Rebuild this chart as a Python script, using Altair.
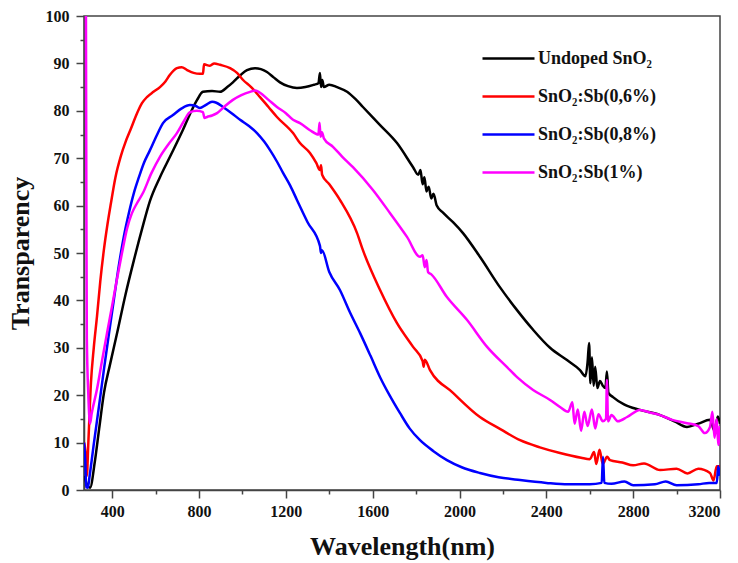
import altair as alt
import pandas as pd

series_names = ["Undoped SnO₂", "SnO₂:Sb(0,6%)", "SnO₂:Sb(0,8%)", "SnO₂:Sb(1%)"]
series_colors = ["#000000", "#FF0000", "#0000FF", "#FF00FF"]

undoped_wl = [272, 285, 298, 320, 340, 362, 390, 422, 460, 500, 540, 574, 620, 666, 726, 760, 791, 818, 860, 897, 930, 956, 990,
              1021, 1058, 1085, 1113, 1145, 1173, 1210, 1251, 1290, 1330, 1350, 1357, 1362, 1368, 1375,
              1400, 1436, 1482, 1520, 1555, 1634, 1712, 1786, 1810, 1820, 1830, 1838, 1848, 1858, 1870,
              1880, 1895, 1924, 1970, 2016, 2094, 2186, 2264, 2339, 2417, 2495, 2555, 2580, 2590, 2597,
              2603, 2610, 2618, 2625, 2635, 2647, 2660, 2672, 2679, 2686, 2707, 2760, 2831, 2924, 2990,
              3048, 3100, 3154, 3175, 3190, 3200]
undoped_t = [3, 1, 0.5, 6, 13, 20.5, 26.5, 33, 41, 48.5, 55.5, 61, 66, 70.3, 76, 79.5, 82.3, 84, 84.2, 84, 85, 86, 87.5,
             88.6, 89, 88.8, 88.2, 87, 86, 85.2, 84.8, 85, 85.5, 85.8, 88, 85, 86.5, 85,
             85.5, 85, 84, 82.5, 80.8, 77, 73.2, 68.1, 66.5, 67.5, 64.5, 66, 63, 64, 61.5,
             62.5, 60, 58.5, 56.5, 54.2, 49.2, 42.8, 38, 33.8, 30, 27.4, 25.3, 24, 27, 31,
             22.5, 28, 22, 26, 21.5, 23, 22, 21.5, 25, 20.5, 19.6, 18, 16.9, 15.8, 14.5,
             13.3, 14, 14.8, 12.5, 15.5, 14]

sb06_wl = [270, 277, 283, 290, 302, 315, 330, 345, 362, 378, 394, 415, 440, 462, 486, 510, 537, 560, 590, 620, 645, 666, 698, 720, 745, 775,
           804, 818, 823, 850, 870, 897, 943, 975, 1003, 1040, 1081, 1120, 1159, 1233, 1265, 1311,
           1340, 1357, 1362, 1367, 1400, 1449, 1528, 1555, 1634, 1712, 1786, 1830, 1835, 1840, 1864,
           1970, 2094, 2190, 2279, 2370, 2463, 2560, 2600, 2620, 2630, 2645, 2660, 2680, 2693, 2750,
           2800, 2850, 2924, 3000, 3050, 3100, 3154, 3170, 3185, 3200]
sb06_t = [10, 8, 3, 10, 22.6, 30, 36.7, 44, 50.8, 56, 60.5, 66, 70.5, 73.5, 76.2, 79, 81.6, 82.9, 84, 85, 86.2, 87.6, 89, 89.2, 88.6, 88,
          87.8, 87.8, 89.8, 89.5, 90, 89.7, 89, 88, 86.5, 85, 82.9, 80.8, 78.7, 75.3, 73.2, 71.1,
          69, 67.5, 68.5, 66.5, 64.5, 61.2, 54.2, 50.6, 42.2, 35.2, 30.2, 27.2, 26, 27.5, 25.3,
          20.5, 15.4, 12.8, 10.5, 9, 7.8, 6.8, 6.5, 8, 5.5, 8.5, 5.5, 7, 6.3, 5.8,
          5.2, 5.6, 4.2, 4.5, 3.5, 4.5, 3.6, 2, 5, 5]

sb08_wl = [270, 276, 280, 288, 296, 316, 340, 362, 385, 408, 430, 454, 477, 500, 523, 546, 574, 605, 634, 680, 720, 758, 785, 804,
           830, 860, 880, 910, 950, 989, 1030, 1067, 1100, 1127, 1160, 1187, 1220, 1251, 1300, 1357,
           1362, 1366, 1400, 1449, 1495, 1542, 1590, 1634, 1680, 1726, 1770, 1818, 1880, 1942, 2010,
           2094, 2180, 2279, 2400, 2500, 2600, 2655, 2661, 2667, 2700, 2760, 2800, 2900, 2950, 3000,
           3100, 3150, 3185, 3192, 3200]
sb08_t = [10, 6, 0.6, 0.5, 3, 10, 18, 25.5, 33, 40.3, 47.2, 53.6, 58.5, 62.7, 66, 69, 71.7, 74.8, 77.4, 79.1, 80.5, 81.2, 81, 80.6,
          81.2, 81.9, 81.7, 80.8, 79.5, 78.1, 76.8, 75.3, 73.5, 71.7, 69.2, 66.9, 64.2, 61.2, 56.5, 51.5,
          50, 50.6, 46, 42.2, 37.5, 33.1, 28.3, 23.8, 19.8, 16.2, 13, 10.5, 8.2, 6.3, 4.8,
          3.6, 2.7, 2.1, 1.5, 1.2, 1.2, 1.5, 7, 1.5, 1.3, 1.8, 1, 1.2, 1.8, 1,
          1.2, 1.5, 1.5, 5, 3]

sb1_wl = [279, 281, 283, 290, 298, 305, 330, 352, 376, 400, 422, 445, 468, 490, 514, 542, 580, 620, 660, 698, 730, 758,
          790, 818, 825, 837, 860, 883, 920, 956, 995, 1035, 1060, 1081, 1120, 1159, 1200, 1233,
          1265, 1311, 1350, 1355, 1360, 1366, 1375, 1417, 1460, 1509, 1601, 1680, 1758, 1818, 1830,
          1840, 1848, 1855, 1870, 1942, 2034, 2127, 2219, 2265, 2339, 2417, 2463, 2500, 2520, 2530,
          2545, 2560, 2575, 2590, 2610, 2625, 2640, 2660, 2675, 2679, 2684, 2700, 2730, 2772, 2831,
          2880, 2924, 2980, 3048, 3100, 3130, 3154, 3165, 3175, 3185, 3192, 3200]
sb1_t = [100, 60, 32, 20, 14, 16, 21.3, 27, 33.1, 39, 44.5, 50, 55.1, 58.3, 60.5, 62.7, 66.8, 70.3, 73, 75.3, 77.8, 79.7,
         80, 79.7, 78.5, 78.7, 79, 79.5, 81, 82.3, 83.3, 84, 84.3, 83.8, 82.3, 80.8, 79.5, 78.1,
         77.4, 75.9, 75, 77.5, 74.5, 75.5, 74.2, 72.4, 70.3, 68.1, 63.3, 58.4, 53.4, 49.2, 49.5,
         47, 48.5, 46, 45.5, 40.7, 35.9, 30.2, 25.9, 23.8, 21.1, 19, 17.5, 16.5, 18.5, 14,
         17, 12.5, 16.5, 13.5, 17, 13, 16, 14.5, 15, 23.2, 14.5, 15.8, 14.5, 15.4, 16.9,
         16.3, 15.8, 14.8, 14.1, 13.5, 12, 13.3, 16.5, 11, 15, 9.5, 13.5]

rows = []
for name, wl, t in zip(series_names, [undoped_wl, sb06_wl, sb08_wl, sb1_wl],
                       [undoped_t, sb06_t, sb08_t, sb1_t]):
    for w, v in zip(wl, t):
        rows.append({"Wavelength": w, "Transparency": v, "Sample": name})
df = pd.DataFrame(rows)

x_ticks = list(range(400, 3201, 200))
y_ticks = list(range(0, 101, 5))

FONT = "Liberation Serif"

chart = alt.Chart(df).mark_line(strokeWidth=2.5, clip=True, interpolate="monotone").encode(
    x=alt.X("Wavelength:Q",
            scale=alt.Scale(domain=[270, 3200], nice=False, zero=False),
            axis=alt.Axis(title="Wavelength(nm)", values=x_ticks, format="d",
                          labelExpr="datum.value % 400 === 0 ? datum.label : ''",
                          tickSize={"condition": {"test": "datum.value % 400 === 0", "value": 8}, "value": 4},
                          labelPadding=5, titlePadding=14, grid=False)),
    y=alt.Y("Transparency:Q",
            scale=alt.Scale(domain=[0, 100], nice=False),
            axis=alt.Axis(title="Transparency", values=y_ticks, format="d",
                          labelExpr="datum.value % 10 === 0 ? datum.label : ''",
                          tickSize={"condition": {"test": "datum.value % 10 === 0", "value": 8}, "value": 4},
                          labelPadding=7, titlePadding=12, grid=False)),
    color=alt.Color("Sample:N",
                    scale=alt.Scale(domain=series_names, range=series_colors),
                    sort=series_names,
                    legend=alt.Legend(title=None, orient="none", legendX=397, legendY=15,
                                      symbolType="stroke", symbolSize=2704, symbolStrokeWidth=2.5,
                                      labelFont=FONT, labelFontSize=18, labelFontWeight="bold",
                                      labelColor="#111", rowPadding=1, labelOffset=2)),
    order=alt.Order("Wavelength:Q"),
).properties(
    width=636, height=474,
    autosize=alt.AutoSizeParams(type="none"),
    padding={"left": 84, "top": 16, "right": 18, "bottom": 73},
).configure_view(
    stroke="#444", strokeWidth=1.5
).configure_axis(
    labelFont=FONT, labelFontSize=16, labelFontWeight="bold", labelColor="#111",
    titleFont=FONT, titleFontSize=26, titleFontWeight="bold", titleColor="#111",
    domainColor="#444", domainWidth=1.5, tickColor="#444", tickWidth=1.5,
)

chart.save("out.html", embed_options={"renderer": "svg", "actions": False})
